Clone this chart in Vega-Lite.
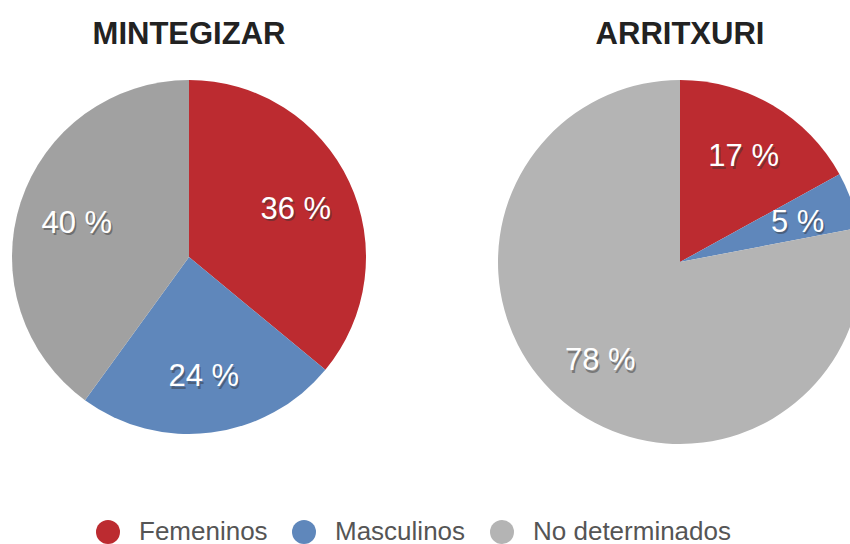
{
  "$schema": "https://vega.github.io/schema/vega-lite/v6.json",
  "padding": {"left": 12, "top": 19, "right": 0, "bottom": 0},
  "background": "white",
  "datasets": {
    "pies": [
      {"panel": "MINTEGIZAR", "category": "Femeninos", "value": 36, "label": "36 %"},
      {"panel": "MINTEGIZAR", "category": "Masculinos", "value": 24, "label": "24 %"},
      {"panel": "MINTEGIZAR", "category": "No determinados", "value": 40, "label": "40 %"},
      {"panel": "ARRITXURI", "category": "Femeninos", "value": 17, "label": "17 %"},
      {"panel": "ARRITXURI", "category": "Masculinos", "value": 5, "label": "5 %"},
      {"panel": "ARRITXURI", "category": "No determinados", "value": 78, "label": "78 %"}
    ]
  },
  "config": {
    "view": {"stroke": null},
    "font": "Liberation Sans",
    "title": {"font": "Liberation Sans", "fontSize": 31, "fontWeight": "bold", "color": "#222222", "offset": 29},
    "legend": {
      "labelFont": "Liberation Sans",
      "labelFontSize": 26,
      "labelColor": "#555555",
      "symbolSize": 576,
      "symbolType": "circle",
      "symbolStrokeWidth": 0,
      "labelOffset": 18,
      "columnPadding": 23,
      "labelLimit": 400
    }
  },
  "hconcat": [
    {
      "title": "MINTEGIZAR",
      "width": 354,
      "height": 354,
      "data": {"name": "pies"},
      "transform": [{"filter": "datum.panel === 'MINTEGIZAR'"}],
      "encoding": {
        "theta": {"field": "value", "type": "quantitative", "stack": true},
        "order": {"field": "category", "type": "nominal"}
      },
      "layer": [
        {
          "mark": {"type": "arc"},
          "encoding": {
            "color": {
              "field": "category", "type": "nominal",
              "scale": {"domain": ["Femeninos", "Masculinos", "No determinados"], "range": ["#bc2b30", "#5f87bb", "#b4b4b4"]},
              "legend": {"orient": "none", "direction": "horizontal", "title": null, "legendX": 83, "legendY": 439}
            }
          }
        },
        {
          "mark": {"type": "arc", "fill": "#000000", "strokeWidth": 0},
          "encoding": {
            "opacity": {
              "condition": {"test": "datum.category === 'No determinados'", "value": 0.1},
              "value": 0
            }
          }
        },
        {
          "mark": {"type": "text", "radius": 118, "fontSize": 31, "fill": "#333333", "opacity": 0.45, "dx": 1.5, "dy": 5.5},
          "encoding": {"text": {"field": "label"}}
        },
        {
          "mark": {"type": "text", "radius": 118, "fontSize": 31, "fill": "#ffffff", "dy": 3},
          "encoding": {"text": {"field": "label"}}
        }
      ]
    },
    {
      "title": "ARRITXURI",
      "width": 364,
      "height": 364,
      "data": {"name": "pies"},
      "transform": [{"filter": "datum.panel === 'ARRITXURI'"}],
      "encoding": {
        "theta": {"field": "value", "type": "quantitative", "stack": true},
        "order": {"field": "category", "type": "nominal"}
      },
      "layer": [
        {
          "mark": {"type": "arc"},
          "encoding": {
            "color": {
              "field": "category", "type": "nominal",
              "scale": {"domain": ["Femeninos", "Masculinos", "No determinados"], "range": ["#bc2b30", "#5f87bb", "#b4b4b4"]}
            }
          }
        },
        {
          "mark": {"type": "text", "radius": 125, "fontSize": 31, "fill": "#333333", "opacity": 0.45, "dx": 1.5, "dy": 5.5},
          "encoding": {"text": {"field": "label"}}
        },
        {
          "mark": {"type": "text", "radius": 125, "fontSize": 31, "fill": "#ffffff", "dy": 3},
          "encoding": {"text": {"field": "label"}}
        }
      ]
    }
  ],
  "spacing": 132
}
